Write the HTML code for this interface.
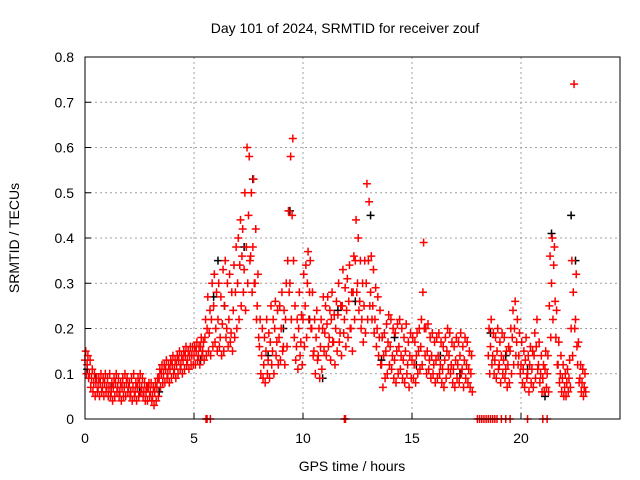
<!DOCTYPE html>
<html><head><meta charset="utf-8"><style>
html,body{margin:0;padding:0;background:#fff;}
svg{display:block;font-family:"Liberation Sans",sans-serif;}
</style></head><body>
<svg id="chart" width="640" height="480" viewBox="0 0 640 480">
<rect width="640" height="480" fill="#fff"/>
<text x="345" y="33" font-size="14" text-anchor="middle">Day 101 of 2024, SRMTID for receiver zouf</text>
<text x="352" y="471" font-size="14" text-anchor="middle">GPS time / hours</text>
<text transform="translate(19,238) rotate(-90)" font-size="14" text-anchor="middle">SRMTID / TECUs</text>
<g id="grid"></g><g id="axes"></g><g id="marks"></g>
<rect x="85" y="57" width="535" height="362" fill="none" stroke="#000" stroke-width="1"/>
</svg>
<script>
const xTicks=[0,5,10,15,20];
const yTicks=[0,0.1,0.2,0.3,0.4,0.5,0.6,0.7,0.8];
const yTickLabels=["0","0.1","0.2","0.3","0.4","0.5","0.6","0.7","0.8"];
const sampleStep=0.1;
const redA=[.13,.12,.10,.09,.08,.08,.07,.08,.07,.08,.07,.07,.06,.07,.08,.07,.06,.07,.07,.08,.07,.06,.07,.06,.07,.08,.07,.06,.06,.07,.06,.05,.06,.07,.09,.10,.10,.11,.10,.11,.12,.11,.12,.13,.12,.13,.14,.13,.14,.14,.14,.15,.14,.16,.15,.18,.20,.19,.22,.25,.20,.22,.18,.21,.25,.20,.22,.19,.24,.28,.30,.34,.36,.33,.38,.45,.36,.38,.30,.25,.16,.14,.12,.15,.13,.17,.15,.20,.17,.18,.20,.16,.22,.35,.30,.45,.18,.16,.20,.17,.22,.25,.30,.28,.20,.15,.18,.14,.16,.20,.19,.21,.18,.22,.17,.20,.23,.19,.25,.22,.24,.26,.20,.28,.35,.30,.26,.22,.25,.30,.35,.28,.25,.22,.20,.18,.12,.14,.15,.17,.16,.14,.13,.15,.16,.14,.13,.15,.12,.14,.13,.12,.14,.15,.16,.28,.14,.15,.13,.14,.12,.13,.14,.12,.11,.13,.15,.14,.12,.11,.13,.12,.14,.11,.13,.12,.11,.10,null,null,null,null,null,null,null,.14,.16,.14,.13,.15,.12,.14,.13,.11,.12,.15,.18,.20,.17,.14,.12,.11,.13,.10,.12,.11,.14,.16,.12,.10,.09,.11,.10,.25,.30,.34,.18,.12,.10,.09,.07,.08,.09,.20,.28,.22,.12,.09,.08,.07];
const redB=[.15,.14,.13,.11,.10,.09,.09,.10,.09,.10,.09,.10,.08,.09,.10,.09,.08,.09,.10,.09,.08,.09,.10,.08,.09,.10,.09,.08,.07,.08,.08,.07,.08,.09,.11,.12,.12,.13,.12,.13,.14,.13,.14,.15,.14,.15,.16,.15,.16,.16,.16,.17,.16,.18,.17,.22,.27,.24,.30,.32,.28,.30,.27,.33,.35,.30,.32,.28,.34,.38,.40,.44,.42,.50,.60,.58,.50,.53,.42,.32,.22,.20,.18,.22,.19,.25,.22,.26,.24,.25,.28,.24,.30,.46,.58,.62,.25,.22,.28,.23,.32,.34,.37,.35,.28,.22,.24,.20,.22,.27,.25,.27,.24,.28,.23,.26,.30,.25,.33,.29,.31,.34,.28,.36,.44,.40,.35,.30,.35,.52,.48,.36,.33,.29,.27,.24,.18,.19,.21,.23,.22,.20,.19,.21,.22,.20,.18,.21,.17,.19,.18,.17,.19,.20,.22,.39,.20,.21,.18,.19,.17,.18,.19,.17,.16,.18,.20,.19,.17,.16,.18,.17,.19,.16,.18,.17,.15,.14,null,null,null,null,null,null,null,.20,.22,.19,.18,.20,.17,.19,.18,.15,.16,.20,.24,.26,.22,.19,.17,.15,.18,.14,.16,.15,.19,.22,.17,.14,.12,.15,.14,.36,.40,.38,.24,.17,.14,.12,.10,.11,.13,.35,.74,.32,.17,.12,.11,.10];
const redC=[.10,.09,.07,.06,.05,.06,.05,.06,.05,.06,.05,.05,.04,.05,.06,.05,.04,.05,.05,.06,.05,.04,.05,.04,.05,.06,.05,.04,.04,.05,.04,.03,.04,.05,.07,.08,.08,.09,.08,.09,.10,.09,.10,.11,.10,.11,.12,.11,.12,.12,.12,.13,.12,.14,.13,.14,.15,.14,.16,.17,.15,.16,.14,.15,.18,.16,.17,.15,.18,.20,.22,.25,.28,.24,.30,.35,.28,.30,.22,.18,.10,.09,.08,.10,.09,.12,.10,.14,.12,.13,.15,.12,.16,.28,.22,.35,.13,.11,.14,.12,.16,.18,.22,.20,.14,.10,.13,.09,.11,.15,.14,.16,.13,.17,.12,.15,.17,.14,.19,.16,.18,.20,.15,.22,.28,.24,.20,.17,.19,.22,.25,.22,.19,.16,.14,.12,.07,.09,.10,.12,.11,.09,.08,.10,.11,.09,.08,.10,.07,.09,.09,.08,.10,.11,.12,.20,.10,.11,.09,.10,.08,.09,.10,.08,.07,.09,.11,.10,.08,.07,.09,.08,.10,.07,.09,.08,.07,.06,null,null,null,null,null,null,null,.10,.12,.10,.09,.11,.08,.10,.09,.07,.08,.10,.12,.14,.12,.10,.08,.07,.09,.06,.08,.07,.09,.11,.08,.06,.06,.07,.06,.18,.22,.26,.12,.08,.06,.05,.05,.06,.07,.14,.20,.16,.08,.06,.05,.06];
const blackT=[0.1,0.5,1.2,2.5,3.4,5.3,5.9,6.1,6.4,7.3,7.7,8.4,9.1,9.4,10.3,10.9,11.6,12.4,13.1,13.6,14.2,15.2,16.3,17.2,18.6,19.3,20.3,21.1,21.4,22.3,22.5];
const blackV=[0.11,0.09,0.07,0.06,0.06,0.13,0.27,0.35,0.25,0.38,0.53,0.14,0.20,0.46,0.22,0.09,0.24,0.26,0.45,0.13,0.18,0.12,0.14,0.10,0.19,0.14,0.11,0.05,0.41,0.45,0.35];
const zeroT=[5.55,5.6,5.75,11.9,11.95,18.0,18.1,18.2,18.3,18.4,18.5,18.6,18.7,18.8,18.9,19.1,19.3,19.5,20.3,21.0,21.2];
const X=t=>85+t*21.8, Y=v=>419-v*452.5;
const NS="http://www.w3.org/2000/svg";
const grid=document.getElementById('grid'),axes=document.getElementById('axes'),marks=document.getElementById('marks');
function mk(tag,attrs,parent){const e=document.createElementNS(NS,tag);for(const k in attrs)e.setAttribute(k,attrs[k]);parent.appendChild(e);return e;}
xTicks.forEach(t=>{
 if(t>0){const g=mk('line',{x1:X(t),x2:X(t),y1:57,y2:419,stroke:'#a0a0a0','stroke-dasharray':'2,3'},grid);
 
 }
 const tk=mk('line',{x1:X(t),x2:X(t),y1:419,y2:413,stroke:'#000'},axes);
 
 
 const lb=mk('text',{x:X(t),y:443,'font-size':14,'text-anchor':'middle'},axes);lb.textContent=t;
 
 
});
yTicks.forEach((v,i)=>{
 if(i>0&&i<yTicks.length-1){const g=mk('line',{x1:85,x2:620,y1:Y(v),y2:Y(v),stroke:'#a0a0a0','stroke-dasharray':'2,3'},grid);
 
 }
 const tk=mk('line',{x1:85,x2:91,y1:Y(v),y2:Y(v),stroke:'#000'},axes);
 
 
 const lb=mk('text',{x:74,y:Y(v)+5,'font-size':14,'text-anchor':'end'},axes);lb.textContent=yTickLabels[i];
 
 
});
function plus(t,v,color,name){
 const x=X(t),y=Y(v);
 const p=mk('path',{d:`M${x-4},${y}h8M${x},${y-4}v8`,stroke:color,'stroke-width':1.5,fill:'none'},marks);
 
 
}
blackT.forEach((t,i)=>plus(t,blackV[i],'#000','black-point'));
[[redA,0],[redB,0.033],[redC,0.066]].forEach(([arr,off])=>{
 arr.forEach((v,i)=>{if(v!==null)plus(i*sampleStep+off,v,'#ff0000','red-point');});
});
zeroT.forEach(t=>plus(t,0,'#ff0000','zero-point'));
</script>
</body></html>
